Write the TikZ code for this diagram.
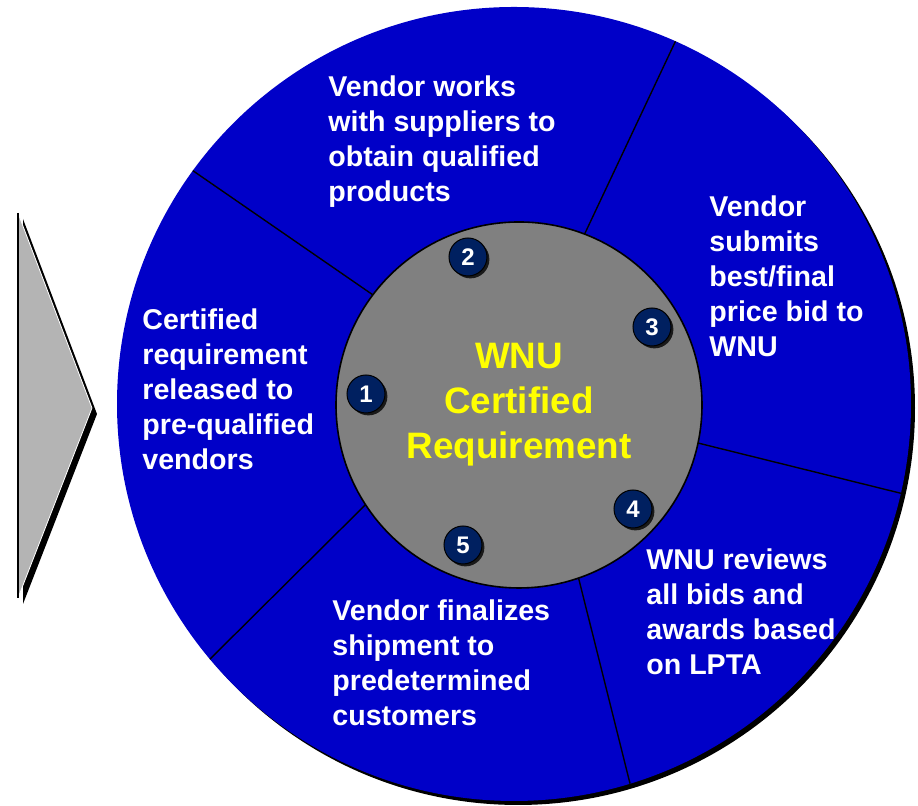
\documentclass[tikz,border=0pt]{standalone}
\usepackage{fontspec}
\setmainfont{Liberation Sans}
\usetikzlibrary{shadows}
\definecolor{wheelblue}{RGB}{0,0,200}
\definecolor{hubgray}{RGB}{128,128,128}
\definecolor{badgenavy}{RGB}{0,32,96}
\definecolor{chevgray}{RGB}{180,180,180}
\definecolor{hubyellow}{RGB}{255,255,0}

\begin{document}
\begin{tikzpicture}
[x=0.5pt,y=0.5pt,%
  ring/.style={shape=circle,minimum size=397pt,inner sep=0pt,outer sep=0pt,fill=wheelblue,
    drop shadow={shadow xshift=2pt,shadow yshift=-2pt,fill=black,opacity=1}},%
  core/.style={shape=circle,minimum size=183pt,inner sep=0pt,outer sep=0pt,draw=black,line width=0.8pt,
    fill=hubgray,text=hubyellow,align=center,font=\fontsize{18.4}{22.5}\selectfont\bfseries},%
  badge/.style={shape=circle,minimum size=19pt,inner sep=0pt,draw=black,line width=0.5pt,fill=badgenavy,
    text=white,font=\fontsize{12}{13}\selectfont\bfseries,
    drop shadow={shadow xshift=1.2pt,shadow yshift=-1.2pt,fill=black,opacity=0.8}},%
  stage/.style={anchor=north west,inner sep=0pt,align=left,text=white,
    font=\fontsize{14.3}{17.6}\selectfont\bfseries},%
  divider/.style={draw=black,line width=0.7pt}]
\useasboundingbox (0,0) rectangle (918,806);
\coordinate (chevtop) at (18,593);
\coordinate (chevtip) at (92,398);
\coordinate (chevbot) at (18,208);
\path[fill=chevgray,draw=white,line width=0.4pt,
  drop shadow={shadow xshift=2.5pt,shadow yshift=-3pt,fill=black,opacity=1}]
  (chevtop) -- (chevtip) -- (chevbot) -- cycle;
\draw[line width=0.7pt] (chevtop) -- (chevbot);
\node[ring] (wheel) at (514,402) {};
\node[core] (hub) at (519,401) {WNU\\Certified\\Requirement};
\draw[divider] (hub.143) -- (wheel.144);
\draw[divider] (hub.69) -- (wheel.66);
\draw[divider] (hub.348) -- (wheel.347);
\draw[divider] (hub.289) -- (wheel.287);
\draw[divider] (hub.213) -- (wheel.220);
\node[badge] (badge1) at (366,412) {1};
\node[badge] (badge2) at (468,549) {2};
\node[badge] (badge3) at (652,479) {3};
\node[badge] (badge4) at (633,297) {4};
\node[badge] (badge5) at (463,261) {5};
\node[stage] (stage1) at (142,498) {Certified\\requirement\\released to\\pre-qualified\\vendors};
\node[stage] (stage2) at (328,731) {Vendor works\\with suppliers to\\obtain qualified\\products};
\node[stage] (stage3) at (709,611) {Vendor\\submits\\best/final\\price bid to\\WNU};
\node[stage] (stage4) at (646,258) {WNU reviews\\all bids and\\awards based\\on LPTA};
\node[stage] (stage5) at (332,207) {Vendor finalizes\\shipment to\\predetermined\\customers};
\end{tikzpicture}
\end{document}
